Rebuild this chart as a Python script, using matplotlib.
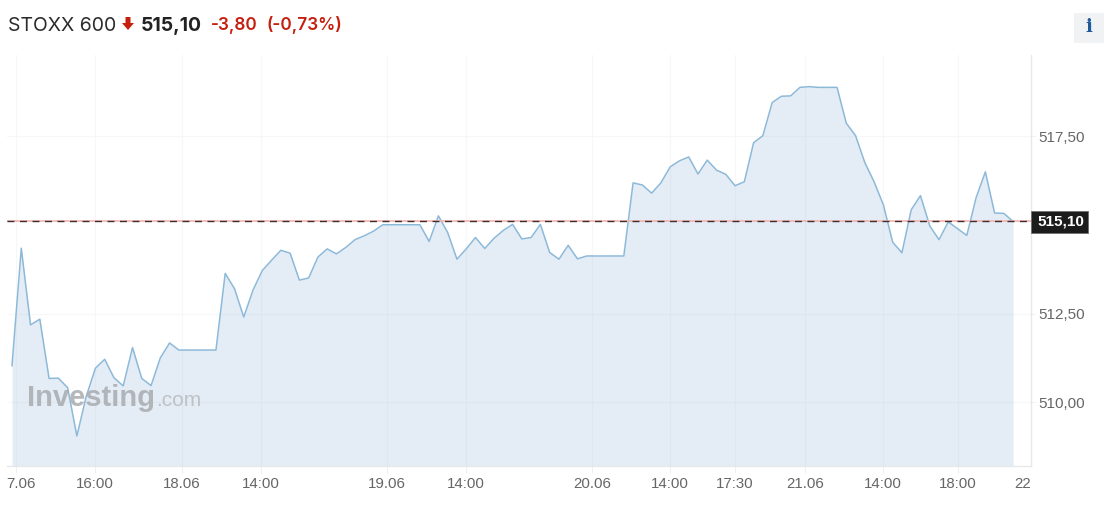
import matplotlib
matplotlib.use("Agg")
import matplotlib.pyplot as plt
import matplotlib.transforms as mtrans
from matplotlib.patches import Polygon, Rectangle
import numpy as np

W, H = 1111, 514

# values
prices = [511.03, 514.34, 512.18, 512.34, 510.67, 510.68, 510.41, 509.05, 510.16, 510.96,
          511.21, 510.69, 510.46, 511.54, 510.67, 510.47, 511.25, 511.67, 511.47, 511.47,
          511.47, 511.47, 511.47, 513.63, 513.20, 512.40, 513.16, 513.71, 514.00, 514.28,
          514.20, 513.44, 513.50, 514.09, 514.32, 514.18, 514.36, 514.58, 514.69, 514.82,
          515.00, 515.00, 515.00, 515.00, 515.00, 514.53, 515.25, 514.78, 514.03, 514.32,
          514.64, 514.33, 514.62, 514.84, 515.01, 514.60, 514.64, 515.01, 514.22, 514.03,
          514.42, 514.04, 514.12, 514.12, 514.12, 514.12, 514.12, 516.18, 516.12, 515.89,
          516.18, 516.63, 516.80, 516.91, 516.43, 516.82, 516.54, 516.42, 516.10, 516.21,
          517.31, 517.51, 518.44, 518.62, 518.63, 518.87, 518.89, 518.87, 518.87, 518.87,
          517.86, 517.51, 516.75, 516.21, 515.56, 514.51, 514.21, 515.42, 515.82, 514.97,
          514.58, 515.08, 514.89, 514.70, 515.76, 516.49, 515.33, 515.32, 515.09]
last_price = 515.10

x_ticks = [0.43, 8.95, 18.34, 26.86, 40.45, 48.97, 62.57, 70.98, 77.99, 85.54, 93.96, 102.05, 109.0]
x_labels = ["7.06", "16:00", "18.06", "14:00", "19.06", "14:00", "20.06", "14:00",
            "17:30", "21.06", "14:00", "18:00", "22"]
y_ticks = [510, 512.5, 517.5]
y_labels = ["510,00", "512,50", "517,50"]

GRID = "#f6f7f8"
AXIS = "#e6e8ea"
TICK_TXT = "#666666"

fig = plt.figure(figsize=(W / 100, H / 100), dpi=100)
ax = fig.add_axes([7 / W, 1 - 466 / H, (1031 - 7) / W, (466 - 55) / H])
plt.rcParams["font.family"] = ["Liberation Sans", "DejaVu Sans"]

xs = np.arange(len(prices))
ax.set_xlim(-5 / 9.27, 1019 / 9.27)
ax.set_ylim(517.5 - (466 - 136) / 35.5, 517.5 + (136 - 55) / 35.5)

ax.set_axisbelow(True)
ax.grid(True, color=GRID, lw=0.8)
ax.fill_between(xs, prices, ax.get_ylim()[0], color="#7aa7cf", alpha=0.2, lw=0, zorder=1)
ax.plot(xs, prices, color="#8db9d9", lw=1.1, zorder=3)

# last price line, pink with dark dashes on top
ax.axhline(last_price, color="#f3b3ae", lw=1.2, zorder=4)
ax.axhline(last_price, color="#3a3034", lw=1.0, dashes=(5, 4), zorder=5)

ax.set_xticks(x_ticks)
ax.set_xticklabels(x_labels, fontsize=10.8, color=TICK_TXT, family="Liberation Sans")
ax.yaxis.tick_right()
ax.set_yticks(y_ticks)
ax.set_yticklabels(y_labels, fontsize=11, color=TICK_TXT, family="Liberation Sans")
ax.tick_params(axis="x", length=5, width=0.8, color="#eff0f1", pad=3)
ax.tick_params(axis="y", length=3, width=0.8, color="#eff0f1", pad=2)

# the first label is cut off at the left edge and the last one has no tick
first = ax.get_xticklabels()[0]
first.set_transform(first.get_transform() + mtrans.ScaledTranslation(4.5 / 100, 0, fig.dpi_scale_trans))
ax.xaxis.get_major_ticks()[-1].tick1line.set_visible(False)
ax.xaxis.get_major_ticks()[-1].gridline.set_visible(False)

for side in ["top", "left"]:
    ax.spines[side].set_visible(False)
for side in ["right", "bottom"]:
    ax.spines[side].set_color(AXIS)
    ax.spines[side].set_linewidth(1.0)

def px(x, y):
    return x / W, 1 - y / H

# price box on the right axis
fig.add_artist(Rectangle(px(1031, 232.7), 57 / W, 22 / H, transform=fig.transFigure,
                         fc="#1c1c1c", ec="#6f6f6f", lw=0.6, zorder=6))
fig.text(*px(1060.5, 222), "515,10", color="white", fontsize=11, fontweight="bold",
         ha="center", va="center", family="Liberation Sans", zorder=7)

# header
fig.text(*px(8, 31), "STOXX 600", fontsize=14, color="#2b2b2b", family="Inter", va="baseline")
fig.add_artist(Polygon([px(125.5, 17), px(130.5, 17), px(130.5, 23), px(134, 23), px(128, 30),
                        px(122, 23), px(125.5, 23)], transform=fig.transFigure,
                       fc="#c5200f", ec="none"))
fig.text(*px(141, 31), "515,10", fontsize=14, color="#222222", family="Inter",
         fontweight="bold", va="baseline")
fig.text(*px(211, 30), "-3,80", fontsize=12.4, color="#c5200f", family="Inter",
         fontweight="semibold", va="baseline")
fig.text(*px(266, 30), "(-0,73%)", fontsize=12.4, color="#c5200f", family="Inter",
         fontweight="semibold", va="baseline")

# info button
fig.add_artist(Rectangle(px(1074, 43), 30 / W, 30 / H, transform=fig.transFigure,
                         fc="#f1f2f4", ec="none"))
fig.text(*px(1089, 27.5), "i", fontsize=13, color="#1f5a9a", fontweight="bold",
         family="DejaVu Serif", ha="center", va="center")

# watermark
fig.text(*px(27, 406), "Investing", fontsize=21, color="#a9acaf", fontweight="bold",
         family="Liberation Sans", alpha=0.85, va="baseline", zorder=8)
fig.text(*px(156, 406), ".com", fontsize=15, color="#b8bbbe", family="Liberation Sans",
         alpha=0.85, va="baseline", zorder=8)

fig.savefig("out.png", dpi=100)
